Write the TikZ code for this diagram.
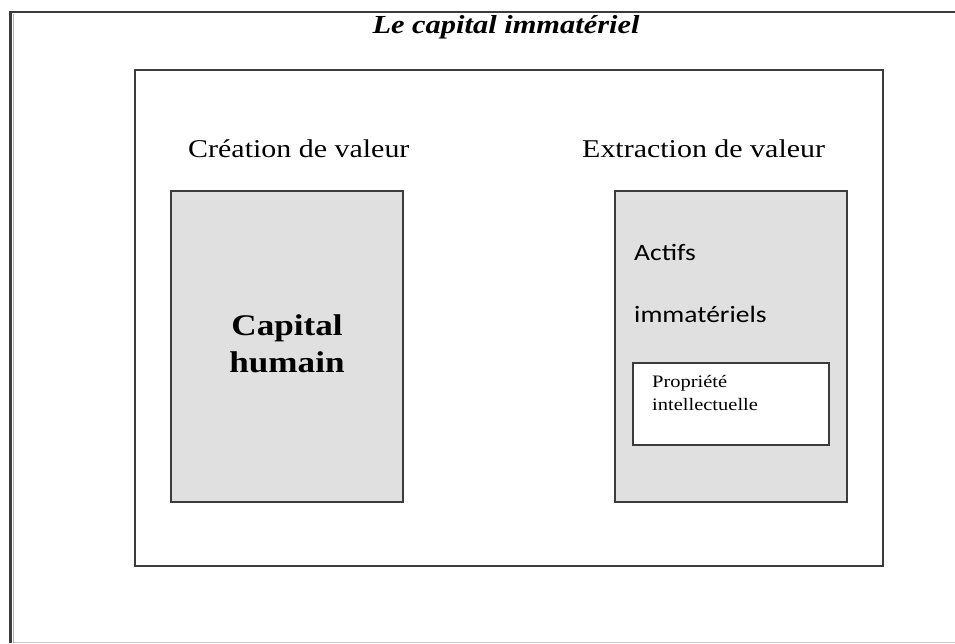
\documentclass[tikz,border=0pt]{standalone}
\usepackage{fontspec}
\setmainfont{Liberation Serif}
\newfontfamily\calib{Carlito}
\definecolor{boxgray}{RGB}{224,224,224}
\definecolor{linegray}{RGB}{60,60,60}
\newcommand{\wide}[1]{\scalebox{1.17}[1]{#1}}
\begin{document}
\begin{tikzpicture}[x=1pt,y=-1pt,
  frame/.style={draw=linegray,line width=1.5pt,anchor=north west,inner sep=0pt},
  lbl/.style={inner sep=0pt,text=black}]
\useasboundingbox (0,0) rectangle (955,643);
% page borders
\draw[linegray,line width=3pt] (10,12) -- (10,643);
\draw[gray!60,line width=1pt] (13.5,14) -- (13.5,643);
\draw[linegray,line width=2pt] (9,12) -- (955,12);
\draw[gray!40,line width=1pt] (14,642.5) -- (955,642.5);
% title
\node[lbl,font=\fontsize{26}{30}\selectfont\bfseries\itshape,anchor=base] (title) at (506,33) {\wide{Le capital immatériel}};
% outer box
\node[frame,minimum width=748pt,minimum height=496pt] (outer) at (134,69) {};
% left box
\node[frame,fill=boxgray,minimum width=232pt,minimum height=311pt] (left) at (170,190) {};
% right box
\node[frame,fill=boxgray,minimum width=232pt,minimum height=311pt] (right) at (614,190) {};
% inner white box
\node[frame,fill=white,minimum width=196pt,minimum height=82pt] (ip) at (632,362) {};
% labels
\node[lbl,font=\fontsize{25.6}{30}\selectfont,anchor=base west] (cv) at (188,157) {\wide{Création de valeur}};
\node[lbl,font=\fontsize{25.6}{30}\selectfont,anchor=base west] (ev) at (582,157) {\wide{Extraction de valeur}};
\node[lbl,font=\fontsize{30}{37}\selectfont\bfseries,align=center,anchor=base] (ch) at (287,372) {\wide{Capital}\\\wide{humain}};
\node[lbl,font=\calib\fontsize{23.5}{28}\selectfont,anchor=base west] (a1) at (634,260) {\wide{Actifs}};
\node[lbl,font=\calib\fontsize{23.5}{28}\selectfont,anchor=base west] (a2) at (634,322) {\wide{immatériels}};
\node[lbl,font=\fontsize{17.5}{22.5}\selectfont,align=left,anchor=base west] (pi) at (652,410) {\wide{Propriété}\\\wide{intellectuelle}};
\end{tikzpicture}
\end{document}
